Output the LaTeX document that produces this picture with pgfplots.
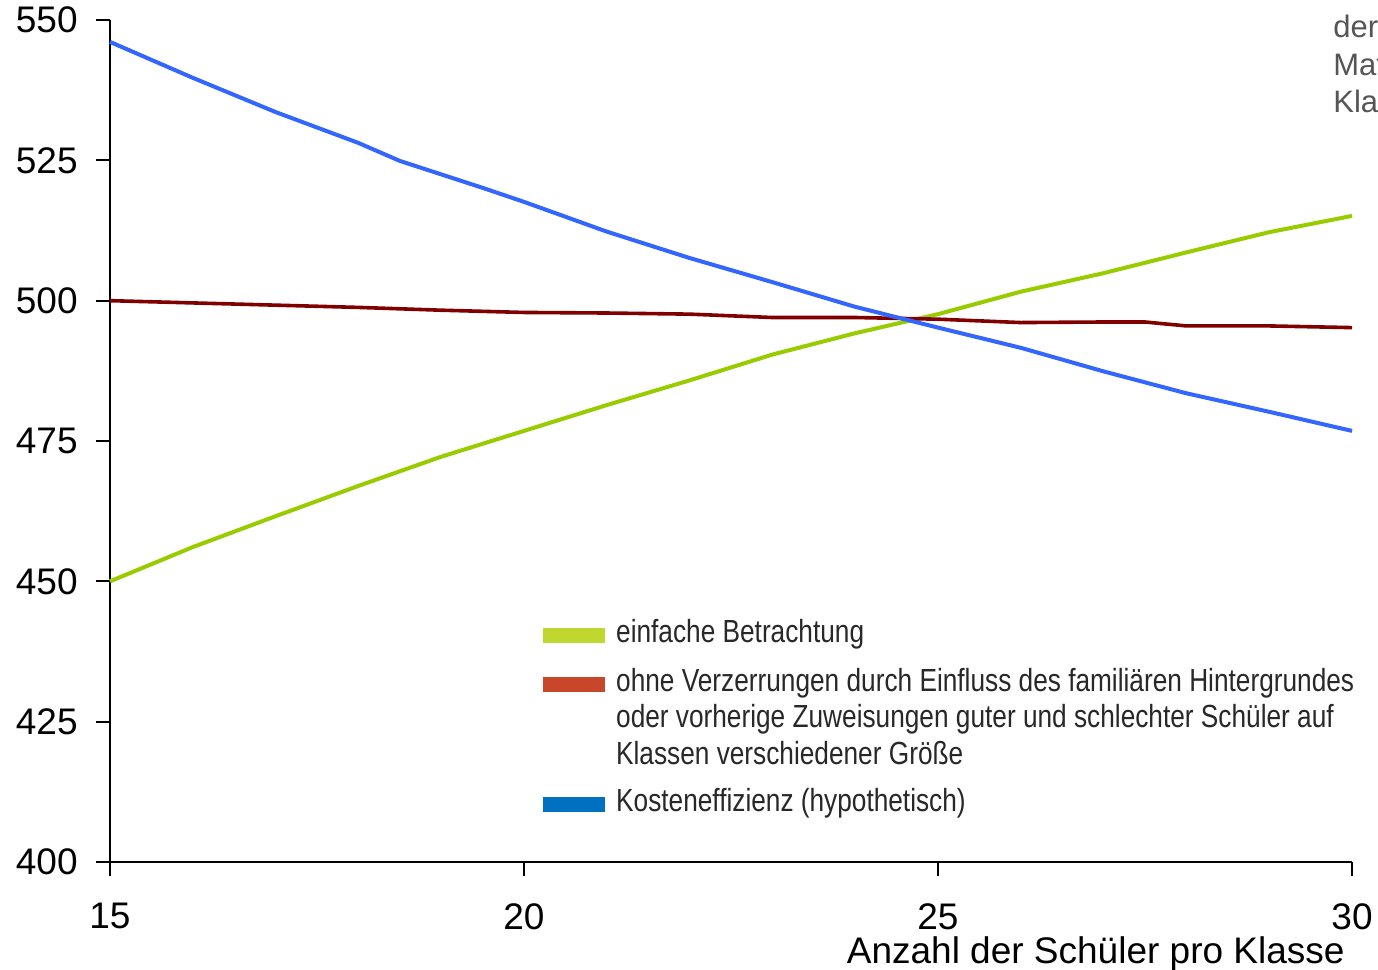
\documentclass[border=0pt]{standalone}
\usepackage{pgfplots}
\pgfplotsset{compat=1.18}
\usepackage{fontspec}
\setmainfont{Liberation Sans}
\newfontfamily\legfont[FakeStretch=0.82]{Liberation Sans}
\definecolor{cGreen}{RGB}{153,204,0}
\definecolor{cRed}{RGB}{128,0,0}
\definecolor{cBlue}{RGB}{51,102,255}
\definecolor{lGreen}{RGB}{192,215,48}
\definecolor{lRed}{RGB}{200,71,43}
\definecolor{lBlue}{RGB}{0,112,192}
\definecolor{legtext}{RGB}{40,40,40}
\definecolor{toptext}{RGB}{85,85,85}
\begin{document}
\begin{tikzpicture}
\begin{axis}[
  at={(0pt,0pt)}, anchor=south west,
  scale only axis, width=621pt, height=421pt,
  xmin=15, xmax=30, ymin=400, ymax=550,
  axis lines=left, axis line style={-, line width=1pt, black},
  xtick={15,20,25,30}, ytick={400,425,450,475,500,525,550},
  tick align=outside, major tick length=7pt,
  tick style={line width=1pt, black},
  /pgf/number format/assume math mode=true,
  ticklabel style={font=\fontsize{18.5}{20}\selectfont},
  yticklabel style={inner sep=0pt, anchor=east, xshift=-9pt},
  xticklabel style={inner sep=0pt, anchor=north, yshift=-13.5pt},
  xlabel={Anzahl der Schüler pro Klasse},
  xlabel style={font=\fontsize{18.5}{20}\selectfont, inner sep=0pt, at={(rel axis cs:1,0)}, anchor=north east, xshift=-3.5pt, yshift=-37pt},
  clip=false,
  legend cell align=left,
  legend style={at={(rel axis cs:0.3486,0.291)}, anchor=north west, draw=none, fill=white, inner sep=0pt, row sep=0pt,
    nodes={inner sep=0pt, text height=12.5pt, text depth=5.75pt, font=\legfont\fontsize{16}{18}\selectfont, text=legtext},
    /tikz/every odd column/.style={column sep=5.5pt}},
]
\addplot[forget plot, cGreen, line width=2pt] coordinates {
(15,450) (16,456.1) (17,461.6) (18,467.0) (19,472.2) (20,476.8) (21,481.4) (22,485.8) (23,490.4) (24,494.2) (25,497.6) (26,501.6) (27,504.9) (28,508.6) (29,512.2) (30,515.1)};
\addplot[forget plot, cRed, line width=1.8pt] coordinates {
(15,500.0) (16,499.6) (17,499.2) (18,498.8) (19,498.3) (20,497.9) (21,497.8) (22,497.6) (23,497.0) (24,497.0) (25,496.7) (26,496.1) (27,496.2) (27.5,496.2) (28,495.5) (29,495.5) (30,495.2)};
\addplot[forget plot, cBlue, line width=2pt] coordinates {
(15,546.1) (16,539.7) (17,533.6) (18,528.1) (18.5,524.9) (19.5,520.1) (20,517.6) (21,512.3) (22,507.6) (23,503.3) (24,498.9) (25,495.2) (26,491.6) (27,487.4) (28,483.5) (29,480.2) (30,476.8)};
\addlegendimage{legend image code/.code={\fill[lGreen] (0pt,-3.5pt) rectangle (30.5pt,3.5pt);}}
\addlegendentry{einfache Betrachtung}
\addlegendimage{empty legend}
\addlegendentry[text height=6.25pt, text depth=0pt]{}
\addlegendimage{legend image code/.code={\fill[lRed] (0pt,-3.5pt) rectangle (30.5pt,3.5pt);}}
\addlegendentry{ohne Verzerrungen durch Einfluss des familiären Hintergrundes}
\addlegendimage{empty legend}
\addlegendentry{oder vorherige Zuweisungen guter und schlechter Schüler auf}
\addlegendimage{empty legend}
\addlegendentry{Klassen verschiedener Größe}
\addlegendimage{empty legend}
\addlegendentry[text height=5.25pt, text depth=0pt]{}
\addlegendimage{legend image code/.code={\fill[lBlue] (0pt,-3.5pt) rectangle (30.5pt,3.5pt);}}
\addlegendentry{Kosteneffizienz (hypothetisch)}
\end{axis}
\begin{scope}[every node/.style={anchor=base west, inner sep=0pt, text=toptext, font=\fontsize{15.5}{18.75}\selectfont}]
\node at (611.5pt,412pt) {der};
\node at (611.5pt,393.25pt) {Mathematik};
\node at (611.5pt,374.5pt) {Klasse};
\end{scope}
\pgfresetboundingbox
\useasboundingbox (-55pt,-54pt) rectangle (634pt,431pt);
\end{tikzpicture}
\end{document}
